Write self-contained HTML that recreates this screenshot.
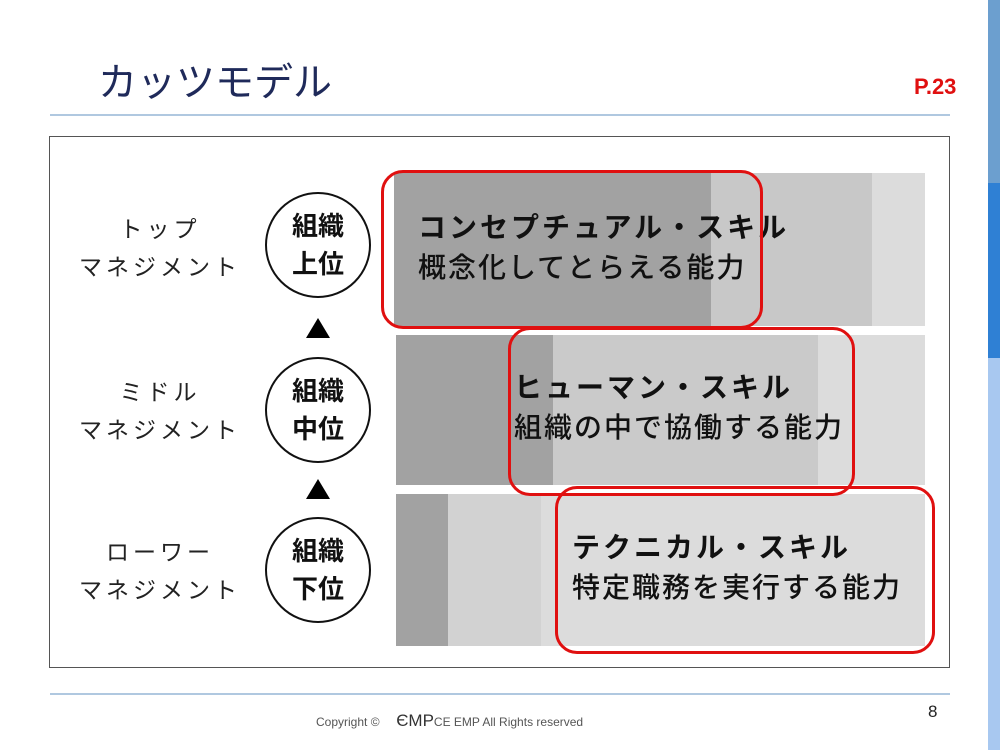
<!DOCTYPE html><html><head><meta charset="utf-8"><style>
body{margin:0;width:1000px;height:750px;background:#fff;position:relative;overflow:hidden;font-family:"Liberation Sans","Noto Sans CJK JP",sans-serif}
div{position:absolute}
.c{border:2.5px solid #111;border-radius:50%;width:106px;height:106px;box-sizing:border-box;background:#fff;display:flex;align-items:center;justify-content:center;text-align:center;font-size:26px;font-weight:bold;line-height:38px;color:#111}
.l{font-size:23px;color:#222;text-align:center;width:200px;line-height:38px;letter-spacing:4px}
.r{border:3px solid #e01010;border-radius:22px;box-sizing:border-box}
.t{font-size:28px;color:#111;line-height:40px;letter-spacing:2px;white-space:nowrap;font-weight:500}
.t b{letter-spacing:3px}
.tri{width:0;height:0;border-left:12px solid transparent;border-right:12px solid transparent;border-bottom:20px solid #000}
</style></head><body>
<div style="left:988px;top:0;width:12px;height:183px;background:#6c9fcf"></div>
<div style="left:988px;top:183px;width:12px;height:175px;background:#2f80d4"></div>
<div style="left:988px;top:358px;width:12px;height:392px;background:#a8c8f0"></div>
<div style="left:98px;top:52px;font-size:39px;color:#1f2a5a">カッツモデル</div>
<div style="left:914px;top:74px;font-size:22px;font-weight:bold;color:#e01010">P.23</div>
<div style="left:50px;top:114px;width:900px;height:2px;background:#b0c8e0"></div>
<div style="left:49px;top:136px;width:901px;height:532px;border:1px solid #555;box-sizing:border-box"></div>
<div style="left:394px;top:173px;width:531px;height:153px;background:#dcdcdc"></div>
<div style="left:394px;top:173px;width:478px;height:153px;background:#c8c8c8"></div>
<div style="left:394px;top:173px;width:317px;height:153px;background:#a2a2a2"></div>
<div style="left:396px;top:335px;width:529px;height:150px;background:#dcdcdc"></div>
<div style="left:396px;top:335px;width:422px;height:150px;background:#cacaca"></div>
<div style="left:396px;top:335px;width:157px;height:150px;background:#a2a2a2"></div>
<div style="left:396px;top:494px;width:529px;height:152px;background:#dcdcdc"></div>
<div style="left:396px;top:494px;width:145px;height:152px;background:#d2d2d2"></div>
<div style="left:396px;top:494px;width:52px;height:152px;background:#a2a2a2"></div>
<div class="t" style="left:418px;top:208px"><b>コンセプチュアル・スキル</b><br>概念化してとらえる能力</div>
<div class="t" style="left:514px;top:368px"><b>ヒューマン・スキル</b><br>組織の中で協働する能力</div>
<div class="t" style="left:572px;top:528px"><b>テクニカル・スキル</b><br>特定職務を実行する能力</div>
<div class="r" style="left:381px;top:170px;width:382px;height:159px"></div>
<div class="r" style="left:508px;top:327px;width:347px;height:169px"></div>
<div class="r" style="left:555px;top:486px;width:380px;height:168px"></div>
<div class="l" style="left:60px;top:210px">トップ<br>マネジメント</div>
<div class="l" style="left:60px;top:373px">ミドル<br>マネジメント</div>
<div class="l" style="left:60px;top:533px">ローワー<br>マネジメント</div>
<div class="c" style="left:265px;top:192px">組織<br>上位</div>
<div class="c" style="left:265px;top:357px">組織<br>中位</div>
<div class="c" style="left:265px;top:517px">組織<br>下位</div>
<div class="tri" style="left:306px;top:318px"></div>
<div class="tri" style="left:306px;top:479px"></div>
<div style="left:50px;top:693px;width:900px;height:2px;background:#b0c8e0"></div>
<div style="left:316px;top:711px;font-size:12px;color:#555">Copyright ©&nbsp;&nbsp;&nbsp;&nbsp;&nbsp;<span style="font-size:17px;color:#333">ЄMP</span>CE EMP All Rights reserved</div>
<div style="left:928px;top:702px;font-size:17px;color:#222">8</div>
</body></html>
